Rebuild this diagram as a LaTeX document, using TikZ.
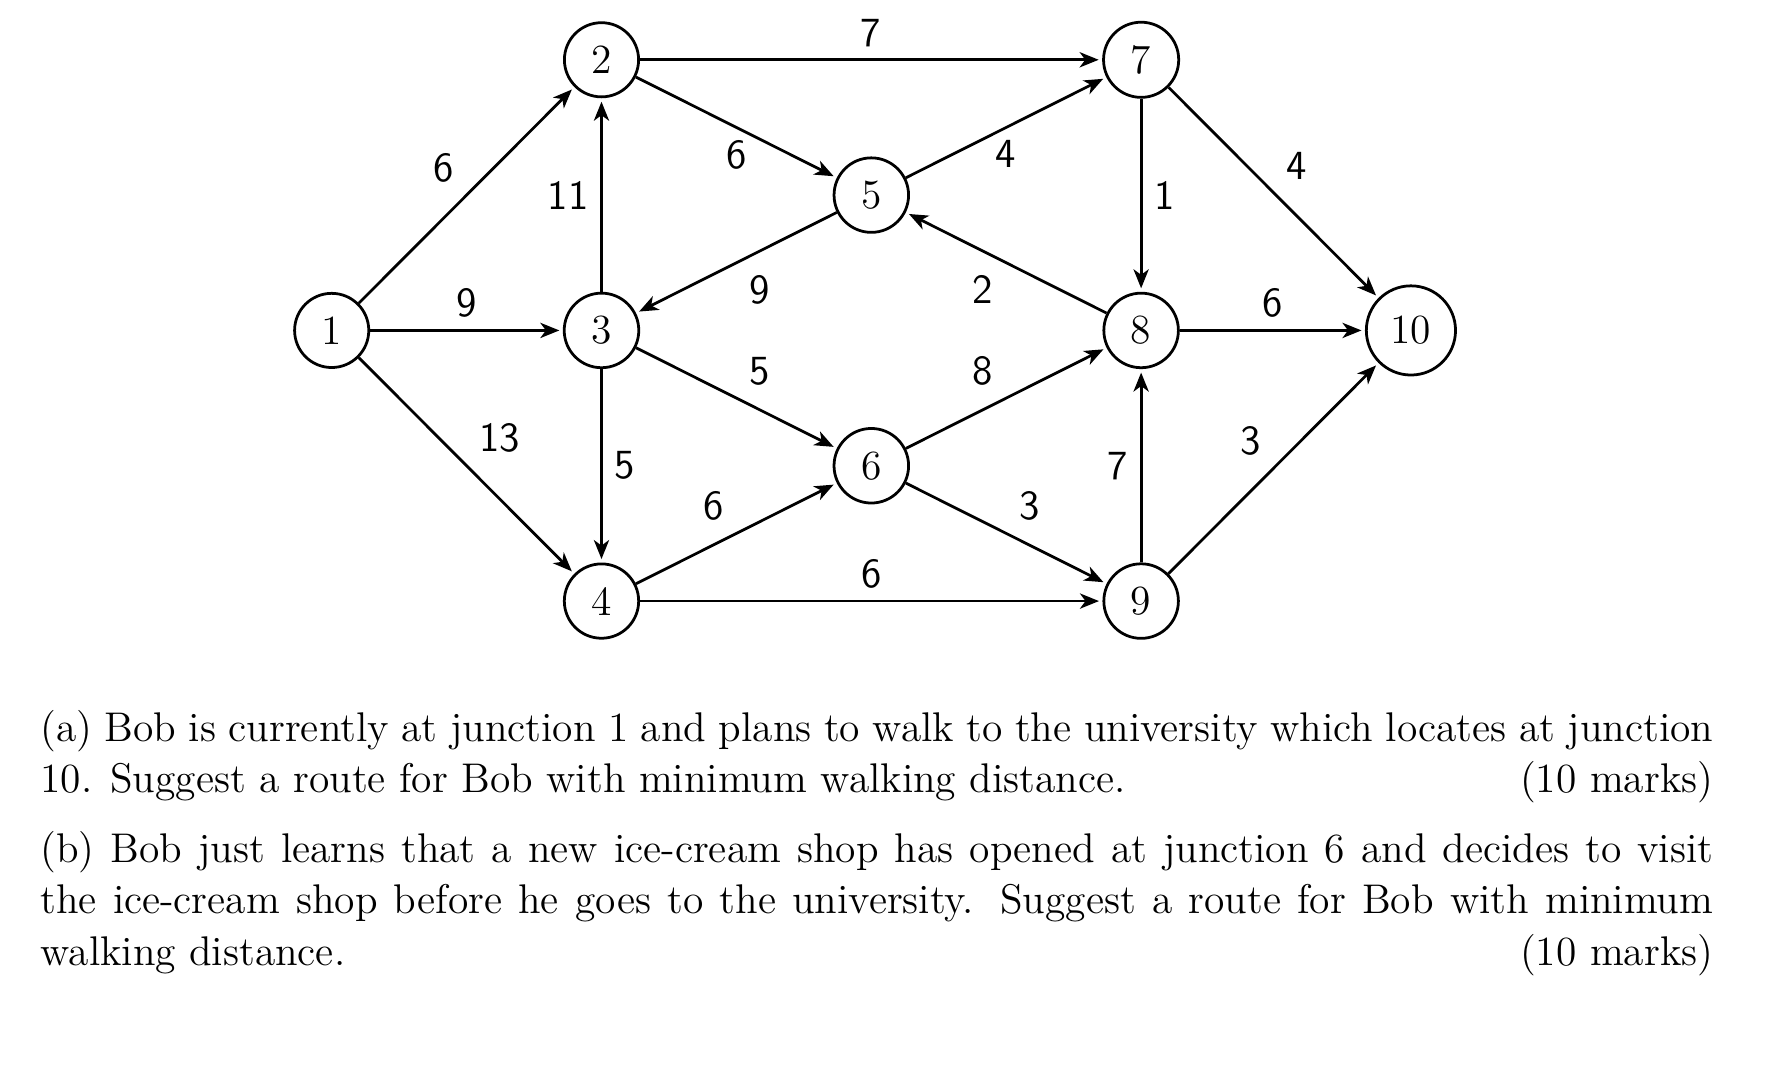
\documentclass[tikz,border=0pt]{standalone}
\usetikzlibrary{arrows.meta}
\begin{document}
\begin{tikzpicture}[x=78.06pt,y=39.15pt,>={Stealth[length=5.5pt,width=4.4pt,inset=1.6pt]},
    vertex/.style={circle,draw,thick,inner sep=4.1pt,font=\fontsize{12}{14}\selectfont},
    wt/.style={font=\sffamily\fontsize{12}{14}\selectfont},
    road/.style={->,thick,shorten >=1pt}]
      \useasboundingbox (-95.96pt,95.6pt) rectangle (421.04pt,-217.15pt);
      \node[vertex] (n1) at (0,0) {1};
      \node[vertex] (n2) at (1,2) {2};
      \node[vertex] (n3) at (1,0) {3};
      \node[vertex] (n4) at (1,-2) {4};
      \node[vertex] (n5) at (2,1) {5};
      \node[vertex] (n6) at (2,-1) {6};
      \node[vertex] (n7) at (3,2) {7};
      \node[vertex] (n8) at (3,0) {8};
      \node[vertex] (n9) at (3,-2) {9};
      \node[vertex] (n10) at (4,0) {10};
      \draw[road] (n1) -- node[wt,above left]{6} (n2);
      \draw[road] (n1) -- node[wt,above]{9} (n3);
      \draw[road] (n1) -- node[wt,above right]{13} (n4);
      \draw[road] (n3) -- node[wt,left]{11} (n2);
      \draw[road] (n2) -- node[wt,above]{7} (n7);
      \draw[road] (n2) -- node[wt,below]{6} (n5);
      \draw[road] (n5) -- node[wt,below right]{9} (n3);
      \draw[road] (n3) -- node[wt,above right]{5} (n6);
      \draw[road] (n3) -- node[wt,right]{5} (n4);
      \draw[road] (n4) -- node[wt,above left]{6} (n6);
      \draw[road] (n4) -- node[wt,above]{6} (n9);
      \draw[road] (n5) -- node[wt,below]{4} (n7);
      \draw[road] (n8) -- node[wt,below left]{2} (n5);
      \draw[road] (n6) -- node[wt,above left]{8} (n8);
      \draw[road] (n6) -- node[wt,above right]{3} (n9);
      \draw[road] (n7) -- node[wt,right]{1} (n8);
      \draw[road] (n7) -- node[wt,above right]{4} (n10);
      \draw[road] (n8) -- node[wt,above]{6} (n10);
      \draw[road] (n9) -- node[wt,above left]{3} (n10);
      \draw[road] (n9) -- node[wt,left]{7} (n8);
      % questions
      \node[anchor=north west,inner sep=0pt,text width=484pt,align=justify,
        font=\fontsize{12}{15}\selectfont] (qtext) at (-84.46pt,-109.6pt) {%
        (a) Bob is currently at junction 1 and plans to walk to the university which locates at junction\linebreak
        10. Suggest a route for Bob with minimum walking distance.\hfill(10 marks)\par
        \vspace{5pt}
        (b) Bob just learns that a new ice-cream shop has opened at junction 6 and decides to visit\linebreak
        the ice-cream shop before he goes to the university. Suggest a route for Bob with minimum\linebreak
        walking distance.\hfill(10 marks)};
\end{tikzpicture}
\end{document}
